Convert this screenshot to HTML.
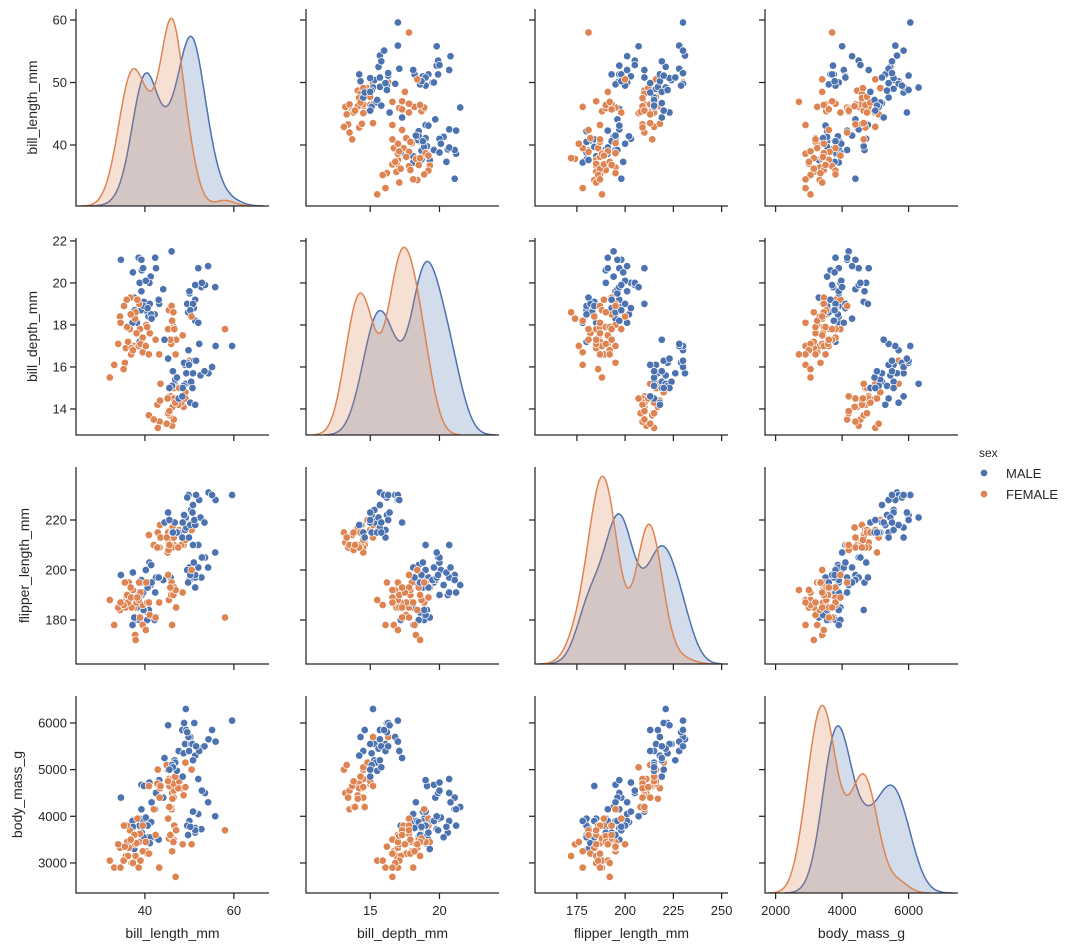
<!DOCTYPE html>
<html><head><meta charset="utf-8"><style>
html,body{margin:0;padding:0;background:#fff;}
svg{display:block;font-family:"Liberation Sans",Arial,sans-serif;}
</style></head><body>
<svg id="chart" width="1080" height="949" viewBox="0 0 1080 949" xmlns="http://www.w3.org/2000/svg"></svg>
<script>
const billLength=[39.1,39.3,39.2,38.6,34.6,42.5,46.0,37.7,38.2,38.8,40.6,40.5,37.2,40.9,39.2,38.8,42.2,39.8,40.8,44.1,39.6,41.3,43.2,41.0,37.6,41.1,42.3,40.2,45.8,39.7,41.4,40.6,43.1,37.3,41.5,
39.5,40.3,36.7,38.9,41.1,36.6,38.7,34.4,37.8,35.9,35.3,40.5,37.9,39.5,36.4,35.7,37.6,36.0,35.5,37.0,38.1,36.2,38.6,34.0,32.1,36.9,33.1,39.0,37.3,35.2,36.8,38.3,34.5,40.2,
50.0,51.3,52.7,51.3,51.3,53.5,50.0,52.0,49.5,52.8,54.2,51.0,52.0,49.7,55.8,50.8,50.2,
46.5,45.4,45.2,46.1,46.0,46.6,47.0,45.9,58.0,46.4,42.4,48.5,43.2,50.5,46.9,45.7,40.9,
46.1,48.7,46.5,45.4,43.3,40.9,45.5,45.8,42.0,46.2,45.1,46.5,42.9,48.2,42.8,45.1,49.1,43.4,45.3,47.5,46.4,47.7,43.5,46.2,45.2,49.1,46.8,45.5,44.9,50.5,
50.0,50.0,47.6,46.7,46.8,49.0,48.4,49.3,49.2,48.7,50.2,51.3,46.1,50.4,54.3,49.8,49.5,50.7,52.5,59.6,48.5,55.9,47.2,53.4,55.1,48.8,51.1,45.2,52.2,49.9,44.4,50.8,46.3,51.5,45.5];
const billDepth=[18.7,20.6,19.6,21.2,21.1,20.7,21.5,18.7,18.1,17.2,18.6,18.9,18.1,18.9,21.1,20.0,18.5,19.1,18.4,19.7,20.7,20.3,19.0,20.0,19.3,19.0,21.2,20.1,18.9,18.9,18.5,18.8,19.2,20.5,18.3,
17.4,18.0,19.3,17.8,17.6,17.8,19.0,18.4,18.3,19.2,18.9,17.9,18.6,16.7,17.0,16.9,17.0,17.9,16.2,16.9,17.6,17.2,17.0,17.1,15.5,16.6,16.1,17.1,16.8,15.9,18.5,19.2,18.1,17.0,
19.5,19.2,19.8,18.2,19.9,19.9,19.6,18.1,19.0,20.0,20.8,18.8,20.7,18.6,19.8,19.0,18.7,
17.9,18.7,17.8,18.2,18.9,17.8,17.3,17.1,17.8,18.6,17.3,17.5,16.6,18.4,16.6,17.3,16.6,
13.2,14.1,13.5,14.6,13.4,13.7,13.7,14.6,13.5,14.5,14.5,14.5,13.1,14.3,14.2,14.5,14.8,14.4,13.8,14.2,15.0,15.0,15.2,14.1,13.8,14.5,14.3,13.9,13.3,15.2,
16.3,15.2,14.5,15.3,15.4,16.1,14.6,15.7,15.2,15.1,14.3,14.2,15.1,15.3,15.7,16.8,16.2,15.0,15.6,17.0,15.0,17.0,15.5,15.8,16.0,16.2,16.3,16.4,17.1,16.1,17.3,15.7,15.8,16.3,15.0];
const flipperLength=[181,190,195,191,198,197,194,180,185,180,183,180,178,184,196,190,180,184,195,196,191,194,197,203,181,182,191,200,197,184,202,193,197,199,195,
186,195,193,181,182,185,195,184,174,189,187,187,172,178,195,185,185,190,195,185,187,187,188,185,188,189,178,191,192,186,193,189,187,176,
196,193,197,197,198,205,201,201,200,205,201,203,210,195,207,210,198,
192,188,198,178,195,193,185,190,181,190,181,191,187,200,192,193,187,
211,210,210,211,209,214,214,210,210,209,215,213,215,210,209,207,220,218,208,209,216,216,213,217,215,212,215,210,213,216,
230,218,215,219,215,216,213,217,221,222,218,218,215,224,231,230,229,223,221,230,219,228,215,219,230,222,220,223,228,213,219,226,215,230,220];
const bodyMass=[3750,3650,4675,3800,4400,4500,4200,3600,3950,3800,3550,3950,3900,3900,4150,3950,3550,4650,3900,4400,3900,3550,4775,4725,3300,3425,4150,3975,4150,3550,3875,3800,3500,3775,4300,
3800,3250,3450,3625,3200,3700,3450,3325,3400,3800,3800,3200,3150,3250,3325,3150,3600,3450,3350,3000,3425,3150,2900,3400,3050,3500,2900,3050,3000,3050,3500,3950,2900,3450,
3900,3650,3725,3750,3700,4500,3900,4050,3800,4550,4300,4100,4800,3600,4000,4100,3775,
3500,3525,3950,3250,4150,3800,3700,3575,3700,3450,3600,3400,2900,3400,2700,3600,3200,
4500,4450,4550,4800,4400,4650,4650,4200,4150,4800,5000,4400,5000,4600,4700,5050,5150,4600,4200,4600,4700,4750,4650,4375,4750,4625,4850,4200,5100,5000,
5700,5700,5400,5200,5150,5550,5850,5850,6300,5350,5700,5300,5100,5550,5650,5700,5800,5550,5450,6050,4850,5600,4975,5500,5850,6000,6000,5950,5400,5400,5250,5200,5050,5500,5000];
const sexCodes="MMMMMMMMMMMMMMMMMMMMMMMMMMMMMMMMMMMFFFFFFFFFFFFFFFFFFFFFFFFFFFFFFFFFFMMMMMMMMMMMMMMMMMFFFFFFFFFFFFFFFFFFFFFFFFFFFFFFFFFFFFFFFFFFFFFFFFFMMMMMMMMMMMMMMMMMMMMMMMMMMMMMMMMMMM";
const varNames=["bill_length_mm","bill_depth_mm","flipper_length_mm","body_mass_g"];
const xTicks=[[40,60],[15,20],[175,200,225,250],[2000,4000,6000]];
const yTicks=[[40,50,60],[14,16,18,20,22],[180,200,220],[3000,4000,5000,6000]];
const xDomains=[[24.5,67.9],[10.36,24.3],[153.3,253.3],[1681,7486]];
const yDomains=[[30.24,61.76],[12.76,22.14],[162.4,241.2],[2356,6578]];
const hueNames=["MALE","FEMALE"];
const hueCodes=["M","F"];
const colors={M:"#4c72b0",F:"#dd8452"};

const cols=[billLength,billDepth,flipperLength,bodyMass];
const sex=sexCodes.split("");
const NS="http://www.w3.org/2000/svg";
const svg=document.getElementById("chart");
const L=[76,306,535,765],T=[9,238,467,696],W=193,H=197;
const AX="#262626";
function mk(tag,attrs,parent){const e=document.createElementNS(NS,tag);for(const k in attrs)e.setAttribute(k,attrs[k]);(parent||svg).appendChild(e);return e;}
function xs(c,v){const d=xDomains[c];return L[c]+(v-d[0])/(d[1]-d[0])*W;}
function ys(r,v){const d=yDomains[r];return T[r]+H-(v-d[0])/(d[1]-d[0])*H;}

function kde(arr,bw,x){let s=0;for(const v of arr){const z=(x-v)/bw;s+=Math.exp(-0.5*z*z);}return s/(arr.length*bw*Math.sqrt(2*Math.PI));}
function std(a){const m=a.reduce((p,q)=>p+q,0)/a.length;return Math.sqrt(a.reduce((p,q)=>p+(q-m)*(q-m),0)/(a.length-1));}

for(let r=0;r<4;r++){for(let c=0;c<4;c++){
  const g=mk("g",{});
  
  
  const x0=L[c],y0=T[r];
  if(r===c){
    const data=cols[c];const N=data.length;
    const curves=[];let maxD=0;
    hueCodes.forEach(h=>{
      const sub=data.filter((v,i)=>sex[i]===h);
      const bw=std(sub)*Math.pow(sub.length,-0.2);
      const lo=Math.min(...sub)-3*bw,hi=Math.max(...sub)+3*bw;
      const pts=[];
      for(let k=0;k<=200;k++){const x=lo+(hi-lo)*k/200;const d=kde(sub,bw,x)*sub.length/N;pts.push([x,d]);if(d>maxD)maxD=d;}
      curves.push([h,pts]);
    });
    const top=maxD*1.05;
    curves.forEach(([h,pts])=>{
      const p=pts.map(q=>[xs(c,q[0]),y0+H-q[1]/top*H]);
      const line=p.map((q,i)=>(i?"L":"M")+q[0].toFixed(1)+","+q[1].toFixed(1)).join("");
      const area=mk("path",{d:line+"L"+p[p.length-1][0].toFixed(1)+","+(y0+H)+"L"+p[0][0].toFixed(1)+","+(y0+H)+"Z",fill:colors[h],"fill-opacity":0.25,stroke:"none"},g);
      
      
      const ln=mk("path",{d:line,fill:"none",stroke:colors[h],"stroke-width":1.5},g);
      
      
    });
  } else {
    const xd=cols[c],yd=cols[r];
    for(let i=0;i<xd.length;i++){
      const pt=mk("circle",{cx:xs(c,xd[i]).toFixed(1),cy:ys(r,yd[i]).toFixed(1),r:3.7,fill:colors[sex[i]],stroke:"#fff","stroke-width":0.7},g);
      
      
    }
  }
  // spines
  const sp=mk("path",{d:`M${x0},${y0}V${y0+H}H${x0+W}`,fill:"none",stroke:AX,"stroke-width":1.25},g);
  
  
  yTicks[r].forEach(t=>{const y=ys(r,t);
    const tk=mk("line",{x1:x0-6,x2:x0,y1:y,y2:y,stroke:AX,"stroke-width":1.25},g);
    
    
    if(c===0){const tl=mk("text",{x:x0-9,y:y+4.5,"text-anchor":"end","font-size":13,fill:AX},g);tl.textContent=t;
      
      }
  });
  xTicks[c].forEach(t=>{const x=xs(c,t);
    const tk=mk("line",{x1:x,x2:x,y1:y0+H,y2:y0+H+6,stroke:AX,"stroke-width":1.25},g);
    
    
    if(r===3){const tl=mk("text",{x:x,y:y0+H+22,"text-anchor":"middle","font-size":13,fill:AX},g);tl.textContent=t;
      
      }
  });
}}
const yLabX=[37,37,29,22];
for(let r=0;r<4;r++){const cy=T[r]+H/2;
  const t=mk("text",{x:yLabX[r],y:cy,"text-anchor":"middle","font-size":14,fill:AX,transform:`rotate(-90 ${yLabX[r]} ${cy})`});
  t.textContent=varNames[r];
  
  }
for(let c=0;c<4;c++){
  const t=mk("text",{x:L[c]+W/2,y:938,"text-anchor":"middle","font-size":14,fill:AX});
  t.textContent=varNames[c];
  
  }
// legend
const lg=mk("g",{});


const lt=mk("text",{x:979,y:457,"font-size":12,fill:AX},lg);lt.textContent="sex";


hueCodes.forEach((h,i)=>{const y=473+i*21;
  const m=mk("circle",{cx:984,cy:y,r:3.7,fill:colors[h],stroke:"#fff","stroke-width":0.7},lg);
  
  
  const t=mk("text",{x:1006,y:y+5,"font-size":13,fill:AX},lg);t.textContent=hueNames[i];
  
  
});
</script>
</body></html>
